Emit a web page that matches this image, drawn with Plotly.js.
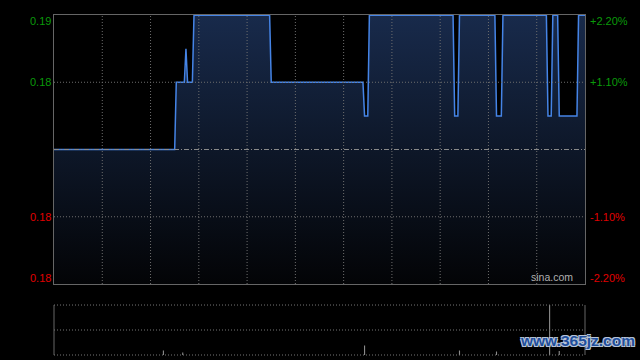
<!DOCTYPE html>
<html>
<head>
<meta charset="utf-8">
<script src="https://cdn.plot.ly/plotly-3.0.1.min.js"></script>
<style>html,body{margin:0;padding:0;background:#000;}#chart{width:640px;height:360px;}</style>
</head>
<body>
<div id="chart"></div>
<script>
// ---- data ----
const prevClose = 0.182;
const priceTimes = ["09:30","10:45","10:46","10:51","10:52","10:53","10:56","10:57","11:44","11:45",
  "13:42","13:43","13:45","13:46","14:38","14:39","14:41","14:42","15:04","15:05","15:08","15:09",
  "15:36","15:37","15:39","15:40","15:43","15:44","15:55","15:56","16:00"];
const prices = [0.182,0.182,0.184,0.184,0.185,0.184,0.184,0.186,0.186,0.184,
  0.184,0.183,0.183,0.186,0.186,0.183,0.183,0.186,0.186,0.183,0.183,0.186,
  0.186,0.183,0.183,0.186,0.186,0.183,0.183,0.186,0.186];
const volTimes = ["10:38","10:50","13:43","14:42","15:05","15:38","15:44"];
const volumes = [180000,100000,380000,180000,140000,2000000,160000];
const pctLevels = [2.2, 1.1, -1.1, -2.2];

// ---- helpers ----
function minuteIndex(s){
  const [h,m] = s.split(":").map(Number);
  const t = h*60+m;
  if (t <= 12*60) return t - (9*60+30);
  return t - 13*60 + 150;
}
const totalMin = 330;
const px = priceTimes.map(minuteIndex);
const vx = volTimes.map(minuteIndex);
const yMin = prevClose*(1+pctLevels[3]/100);
const yMax = prevClose*(1+pctLevels[0]/100);
const gridTimes = [];
for (let t=30; t<totalMin; t+=30) gridTimes.push(t);

const green = '#0a9a0a', red = '#e00000';
const gridCol = '#6e6e6e';

const traces = [
  {x:[0,totalMin], y:[yMin,yMin], mode:'lines', line:{width:0,color:'rgba(0,0,0,0)'}, xaxis:'x', yaxis:'y', hoverinfo:'skip'},
  {x:px, y:prices, mode:'lines', line:{color:'#4584e6', width:1.5}, fill:'tonexty',
   fillgradient:{type:'vertical', colorscale:[[0,'#030406'],[1,'#182a4b']]},
   xaxis:'x', yaxis:'y'},
  {x:vx, y:volumes, type:'bar', width:0.7, marker:{color:'#8a8a8a', line:{width:0}}, xaxis:'x2', yaxis:'y2'}
];

const annotations = [];
pctLevels.forEach((p,i)=>{
  const v = prevClose*(1+p/100);
  const col = p>0 ? green : red;
  const ya = i===0 ? 'top' : (i===pctLevels.length-1 ? 'bottom' : 'middle');
  const ys = i===0 ? 2 : (i===pctLevels.length-1 ? -2 : 0);
  annotations.push({xref:'paper', x:0, yref:'y', y:v, xanchor:'right', yanchor:ya, xshift:-1, yshift:ys,
    text:v.toFixed(2), showarrow:false, font:{family:'Liberation Sans, Arial', size:11, color:col}});
  annotations.push({xref:'paper', x:1, yref:'y', y:v, xanchor:'left', yanchor:ya, xshift:3, yshift:ys,
    text:(p>0?'+':'')+p.toFixed(2)+'%', showarrow:false, font:{family:'Liberation Sans, Arial', size:11, color:col}});
});
annotations.push({xref:'paper', x:1, yref:'y', y:yMin, xanchor:'right', yanchor:'bottom', xshift:-10, yshift:-1,
  text:'sina.com', showarrow:false, font:{family:'Liberation Sans, Arial', size:10.5, color:'#b0b0b0'}});
annotations.push({xref:'paper', x:1, yref:'paper', y:0, xanchor:'right', yanchor:'bottom', xshift:52, yshift:4,
  text:'<b>www.365jz.com</b>', showarrow:false,
  font:{family:'Liberation Sans, Arial', size:15.5, color:'#1f4f9c',
        shadow:'1px 1px 0 #b8c4d8, -1px -1px 0 #b8c4d8, 1px -1px 0 #b8c4d8, -1px 1px 0 #b8c4d8'}});

const shapes = [];
gridTimes.forEach(t=>{
  shapes.push({type:'line', xref:'x', x0:t, x1:t, yref:'y domain', y0:0, y1:1, line:{color:gridCol, width:1, dash:'1px,2px'}, layer:'above'});
});
[pctLevels[1], pctLevels[2]].forEach(p=>{
  const v = prevClose*(1+p/100);
  shapes.push({type:'line', xref:'x', x0:0, x1:totalMin, yref:'y', y0:v, y1:v, line:{color:gridCol, width:1, dash:'1px,2px'}, layer:'above'});
});
shapes.push({type:'line', xref:'x', x0:0, x1:totalMin, yref:'y', y0:prevClose, y1:prevClose, line:{color:'#8a8a8a', width:1, dash:'5px,2px,1px,2px'}, layer:'above'});
// volume panel frame
shapes.push({type:'line', xref:'x2 domain', x0:0, x1:0, yref:'y2 domain', y0:0, y1:1, line:{color:'#666', width:1}});
shapes.push({type:'line', xref:'x2 domain', x0:1, x1:1, yref:'y2 domain', y0:0, y1:1, line:{color:'#666', width:1}});
[0,0.5,1].forEach(f=>{
  shapes.push({type:'line', xref:'x2 domain', x0:0, x1:1, yref:'y2 domain', y0:f, y1:f, line:{color:'#777', width:1, dash:'1px,2px'}});
});

const layout = {
  width:640, height:360,
  paper_bgcolor:'#000', plot_bgcolor:'#000',
  margin:{l:54, r:55, t:15, b:5},
  showlegend:false,
  xaxis:{domain:[0,1], range:[0,totalMin], anchor:'y', showticklabels:false, ticks:'',
    showgrid:false, zeroline:false,
    showline:true, mirror:true, linecolor:'#666', linewidth:1, fixedrange:true},
  yaxis:{domain:[0.2088,1], range:[yMin,yMax], showgrid:false, zeroline:false, showticklabels:false, ticks:'',
    showline:true, mirror:true, linecolor:'#666', linewidth:1, fixedrange:true},
  xaxis2:{domain:[0,1], range:[0,totalMin], anchor:'y2', showgrid:false, zeroline:false, showticklabels:false, ticks:'', showline:false},
  yaxis2:{domain:[0,0.147], range:[0, Math.max(...volumes)], anchor:'x2', showgrid:false, zeroline:false, showticklabels:false, ticks:'', showline:false},
  annotations:annotations,
  shapes:shapes
};

Plotly.newPlot('chart', traces, layout, {staticPlot:true, displayModeBar:false});
</script>
</body>
</html>
